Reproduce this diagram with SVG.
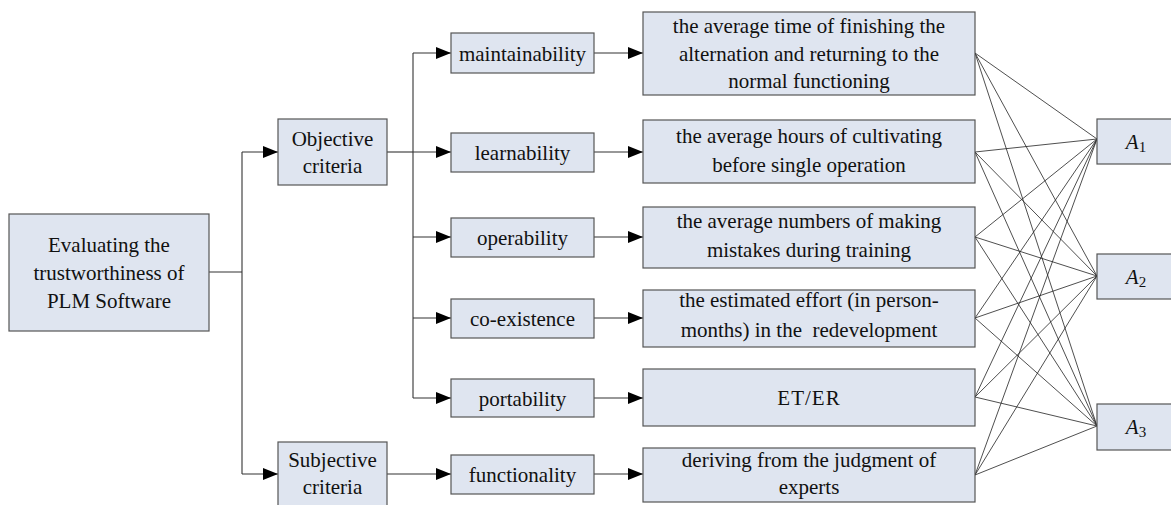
<svg xmlns="http://www.w3.org/2000/svg" width="1171" height="505" viewBox="0 0 1171 505">
<style>
.box{fill:#dfe5f0;stroke:#555;stroke-width:1.2}
.t{font-family:'Liberation Serif','Times New Roman',Times,'DejaVu Serif',serif;font-size:21px;fill:#111;text-anchor:middle}
.ln{fill:none;stroke:#333;stroke-width:1.1}
.fan{fill:none;stroke:#222;stroke-width:0.8}
</style>
<defs>
<marker id="ah" markerWidth="15" markerHeight="12" refX="15" refY="6" orient="auto" markerUnits="userSpaceOnUse">
<path d="M0,0 L15,6 L0,12 Z" fill="#000"/>
</marker>
</defs>
<rect width="1171" height="505" fill="#fff"/>
<g id="connectors">
<path class="ln" d="M209,272 H242"/>
<path class="ln" d="M242,152 V474"/>
<path class="ln" d="M242,152 H278" marker-end="url(#ah)"/>
<path class="ln" d="M242,474 H278" marker-end="url(#ah)"/>
<path class="ln" d="M387,152 H413"/>
<path class="ln" d="M413,53 V398"/>
<path class="ln" d="M413,53 H451" marker-end="url(#ah)"/>
<path class="ln" d="M413,152 H451" marker-end="url(#ah)"/>
<path class="ln" d="M413,237 H451" marker-end="url(#ah)"/>
<path class="ln" d="M413,318 H451" marker-end="url(#ah)"/>
<path class="ln" d="M413,398 H451" marker-end="url(#ah)"/>
<path class="ln" d="M387,474 H451" marker-end="url(#ah)"/>
<path class="ln" d="M594,53 H643" marker-end="url(#ah)"/>
<path class="ln" d="M594,152 H643" marker-end="url(#ah)"/>
<path class="ln" d="M594,237 H643" marker-end="url(#ah)"/>
<path class="ln" d="M594,318 H643" marker-end="url(#ah)"/>
<path class="ln" d="M594,398 H643" marker-end="url(#ah)"/>
<path class="ln" d="M594,474 H643" marker-end="url(#ah)"/>
<g class="fan">
<path d="M975,53 L1097,139 M975,53 L1097,276 M975,53 L1097,426"/>
<path d="M975,152 L1097,139 M975,152 L1097,276 M975,152 L1097,426"/>
<path d="M975,237 L1097,139 M975,237 L1097,276 M975,237 L1097,426"/>
<path d="M975,318 L1097,139 M975,318 L1097,276 M975,318 L1097,426"/>
<path d="M975,397 L1097,139 M975,397 L1097,276 M975,397 L1097,426"/>
<path d="M975,475 L1097,139 M975,475 L1097,276 M975,475 L1097,426"/>
</g>
</g>
<g id="root"><rect class="box" x="9" y="214" width="200" height="117"/>
<text class="t" x="109" y="252">Evaluating the</text><text class="t" x="109" y="280">trustworthiness of</text><text class="t" x="109" y="308">PLM Software</text></g>
<g id="objective"><rect class="box" x="278" y="119" width="109" height="66"/>
<text class="t" x="332.5" y="146">Objective</text><text class="t" x="332.5" y="173">criteria</text></g>
<g id="subjective"><rect class="box" x="278" y="442" width="109" height="66"/>
<text class="t" x="332.5" y="467">Subjective</text><text class="t" x="332.5" y="494">criteria</text></g>
<g id="maintainability"><rect class="box" x="451" y="33" width="143" height="40"/><text class="t" x="522.5" y="61">maintainability</text></g>
<g id="learnability"><rect class="box" x="451" y="133" width="143" height="39"/><text class="t" x="522.5" y="160">learnability</text></g>
<g id="operability"><rect class="box" x="451" y="218" width="143" height="39"/><text class="t" x="522.5" y="245">operability</text></g>
<g id="coexistence"><rect class="box" x="451" y="299" width="143" height="39"/><text class="t" x="522.5" y="326">co-existence</text></g>
<g id="portability"><rect class="box" x="451" y="379" width="143" height="38"/><text class="t" x="522.5" y="406">portability</text></g>
<g id="functionality"><rect class="box" x="451" y="455" width="143" height="39"/><text class="t" x="522.5" y="482">functionality</text></g>
<g id="m1"><rect class="box" x="643" y="12" width="332" height="83"/>
<text class="t" x="809" y="33">the average time of finishing the</text><text class="t" x="809" y="61">alternation and returning to the</text><text class="t" x="809" y="88">normal functioning</text></g>
<g id="m2"><rect class="box" x="643" y="120" width="332" height="63"/>
<text class="t" x="809" y="143">the average hours of cultivating</text><text class="t" x="809" y="172">before single operation</text></g>
<g id="m3"><rect class="box" x="643" y="207" width="332" height="61"/>
<text class="t" x="809" y="228">the average numbers of making</text><text class="t" x="809" y="257">mistakes during training</text></g>
<g id="m4"><rect class="box" x="643" y="290" width="332" height="57"/>
<text class="t" x="809" y="307">the estimated effort (in person-</text><text class="t" x="809" y="337" xml:space="preserve">months) in the  redevelopment</text></g>
<g id="m5"><rect class="box" x="643" y="369" width="332" height="57"/>
<text class="t" x="809" y="405" letter-spacing="1">ET/ER</text></g>
<g id="m6"><rect class="box" x="643" y="448" width="332" height="54"/>
<text class="t" x="809" y="467">deriving from the judgment of</text><text class="t" x="809" y="494">experts</text></g>
<g id="A1"><rect class="box" x="1097" y="119" width="80" height="45"/>
<text class="t" x="1136" y="149"><tspan font-style="italic">A</tspan><tspan font-size="15" dy="3">1</tspan></text></g>
<g id="A2"><rect class="box" x="1097" y="254" width="80" height="45"/>
<text class="t" x="1136" y="284"><tspan font-style="italic">A</tspan><tspan font-size="15" dy="3">2</tspan></text></g>
<g id="A3"><rect class="box" x="1097" y="404" width="80" height="46"/>
<text class="t" x="1136" y="434"><tspan font-style="italic">A</tspan><tspan font-size="15" dy="3">3</tspan></text></g>
</svg>
